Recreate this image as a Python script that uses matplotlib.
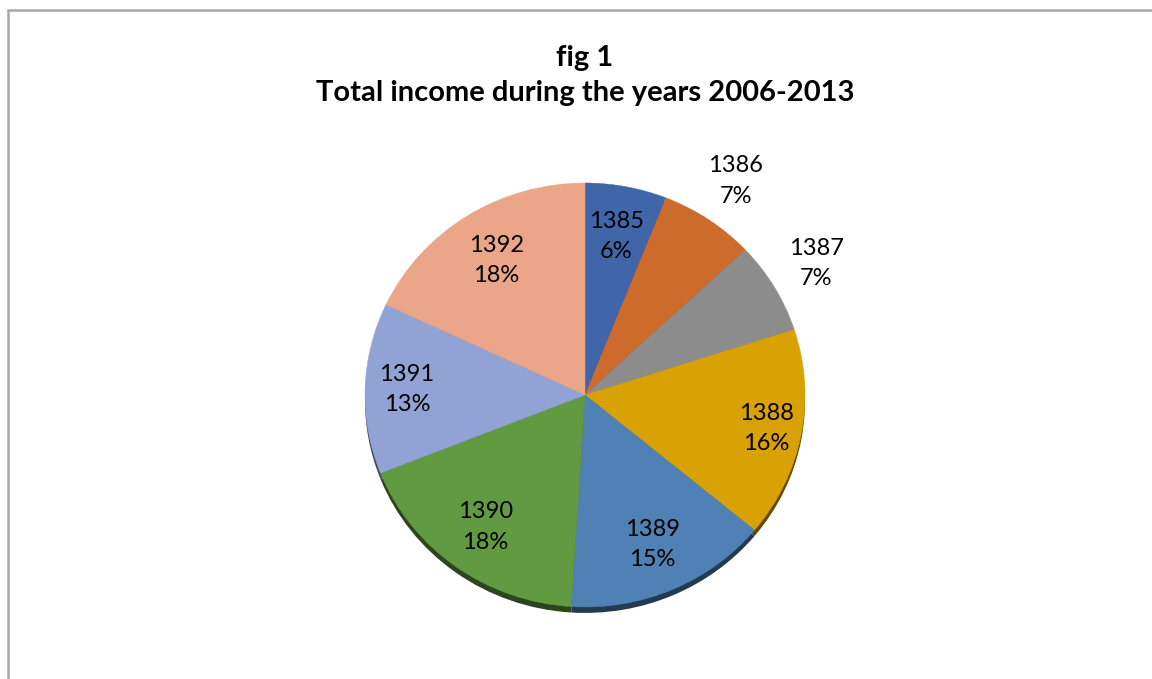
import numpy as np
import matplotlib.pyplot as plt
from matplotlib.patches import Rectangle

years = ['1385', '1386', '1387', '1388', '1389', '1390', '1391', '1392']
shares = [6, 7, 7, 16, 15, 18, 13, 18]
colors = ['#4165A9', '#CC6B2C', '#8C8C8C', '#D9A204', '#4F81B5', '#629A42', '#91A3D4', '#EBA68A']
label_r = [0.76, 1.22, 1.22, 0.84, 0.77, 0.77, 0.81, 0.75]

plt.rcParams['font.family'] = ['Lato', 'DejaVu Sans']

W, H = 1152, 679
fig = plt.figure(figsize=(W / 100, H / 100), dpi=100)

# border of chart area
fig.patches.append(Rectangle((7.5 / W, -0.1), 1.2, (H - 10.5) / H + 0.1,
                             transform=fig.transFigure, fill=False,
                             edgecolor='#A6A6A6', linewidth=1.8))

# pie axes: radius 1 -> 220 px wide, 212 px tall, centre at (585, 395)
cx, cy = 585, H - 395
rx, ry = 220, 212
xl, yl = 1.4, 1.15
ax = fig.add_axes([(cx - xl * rx) / W, (cy - yl * ry) / H, 2 * xl * rx / W, 2 * yl * ry / H])

dark = [tuple(np.array(plt.matplotlib.colors.to_rgb(c)) * 0.45) for c in colors]
ax.pie(shares, colors=dark, startangle=90, counterclock=False, center=(0, -0.028),
       radius=1.0, wedgeprops=dict(linewidth=0), frame=True)
wedges, _ = ax.pie(shares, colors=colors, startangle=90, counterclock=False,
                   radius=1.0, wedgeprops=dict(linewidth=0.3), frame=True)
for w, c in zip(wedges, colors):
    w.set_edgecolor(c)
ax.set_xlim(-xl, xl)
ax.set_ylim(-yl, yl)
ax.set_aspect('auto')
ax.axis('off')

for w, yr, s, r in zip(wedges, years, shares, label_r):
    ang = np.deg2rad((w.theta1 + w.theta2) / 2)
    ax.text(r * np.cos(ang), r * np.sin(ang), f'{yr}\n{s}%', ha='center', va='center',
            fontsize=17, linespacing=1.55, color='black')

fig.text(585 / W, 1 - 58 / H, 'fig 1', ha='center', va='center', fontsize=21, fontweight='bold')
fig.text(585 / W, 1 - 93 / H, 'Total income during the years 2006-2013', ha='center', va='center',
         fontsize=21, fontweight='bold')

fig.savefig('out.png', dpi=100, facecolor='white')
